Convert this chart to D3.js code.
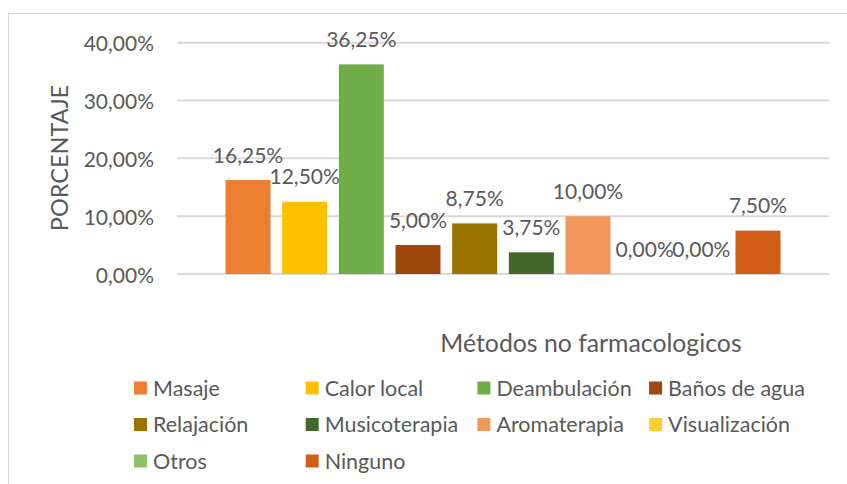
<!DOCTYPE html>
<html>
<head>
<meta charset="utf-8">
<script src="https://cdn.jsdelivr.net/npm/d3@7"></script>
<style>
  html, body { margin: 0; padding: 0; background: #ffffff; }
  svg { display: block; }
  text { font-family: Lato, "Open Sans", sans-serif; fill: #595959; }
</style>
</head>
<body>
<svg id="chart" width="847" height="484"></svg>
<script>
// ---- data ----
const categories = ["Masaje", "Calor local", "Deambulación", "Baños de agua", "Relajación",
                    "Musicoterapia", "Aromaterapia", "Visualización", "Otros", "Ninguno"];
const values = [16.25, 12.50, 36.25, 5.00, 8.75, 3.75, 10.00, 0.00, 0.00, 7.50];
const colors = ["#ED7D31", "#FFC000", "#70AD47", "#9E480E", "#997300",
                "#43682B", "#F1975A", "#FFCD33", "#8CC168", "#D15E14"];
const yTicks = [0, 10, 20, 30, 40];
const yTitle = "PORCENTAJE";
const xTitle = "Métodos no farmacologicos";

// ---- layout ----
const svg = d3.select("#chart");
const plot = { left: 177, right: 829, top: 42.7, bottom: 274 };
const locale = d3.formatLocale({ decimal: ",", thousands: ".", grouping: [3], currency: ["", "€"] });
const fmt = v => locale.format(".2f")(v) + "%";

// outer border
svg.append("rect")
  .attr("x", 8.5).attr("y", 13.5).attr("width", 900).attr("height", 600)
  .attr("fill", "none").attr("stroke", "#D9D9D9").attr("stroke-width", 1);

const y = d3.scaleLinear().domain([0, 40]).range([plot.bottom, plot.top]);
const x = d3.scaleBand().domain(categories).range([plot.left, plot.right])
  .paddingInner(0.206).paddingOuter(0.856);

// gridlines
svg.append("g").selectAll("line").data(yTicks).join("line")
  .attr("x1", plot.left).attr("x2", plot.right)
  .attr("y1", d => y(d)).attr("y2", d => y(d))
  .attr("stroke", "#D9D9D9").attr("stroke-width", 2);

// y axis tick labels
const yAxis = d3.axisLeft(y).tickValues(yTicks).tickFormat(fmt).tickSize(0).tickPadding(0);
const gy = svg.append("g").attr("transform", `translate(154,0)`).call(yAxis);
gy.select(".domain").remove();
gy.selectAll("text")
  .attr("font-family", "Lato").attr("font-size", 21).attr("fill", "#595959")
  .attr("dy", 8).attr("text-anchor", "end");

// bars
svg.append("g").selectAll("rect").data(categories).join("rect")
  .attr("x", d => x(d))
  .attr("width", x.bandwidth())
  .attr("y", (d, i) => y(values[i]))
  .attr("height", (d, i) => y(0) - y(values[i]))
  .attr("fill", (d, i) => colors[i]);

// data labels
svg.append("g").selectAll("text").data(categories).join("text")
  .attr("x", d => x(d) + x.bandwidth() / 2)
  .attr("y", (d, i) => y(values[i]) - 17.5)
  .attr("text-anchor", "middle")
  .attr("font-size", 21)
  .text((d, i) => fmt(values[i]));

// axis titles
svg.append("text")
  .attr("transform", "translate(68,158) rotate(-90)")
  .attr("text-anchor", "middle").attr("font-size", 23.5)
  .text(yTitle);
svg.append("text")
  .attr("x", 591).attr("y", 352)
  .attr("text-anchor", "middle").attr("font-size", 24.8)
  .text(xTitle);

// legend
const legCols = 4, colW = 171.7, legX = 134, legY = 388, rowH = 36.5;
const leg = svg.append("g").selectAll("g").data(categories).join("g")
  .attr("transform", (d, i) => `translate(${legX + (i % legCols) * colW},${legY + Math.floor(i / legCols) * rowH})`);
leg.append("rect").attr("x", 0).attr("y", -6.5).attr("width", 13).attr("height", 13)
  .attr("fill", (d, i) => colors[i]);
leg.append("text").attr("x", 19).attr("y", 7.5).attr("font-size", 21.5).text(d => d);
</script>
</body>
</html>
